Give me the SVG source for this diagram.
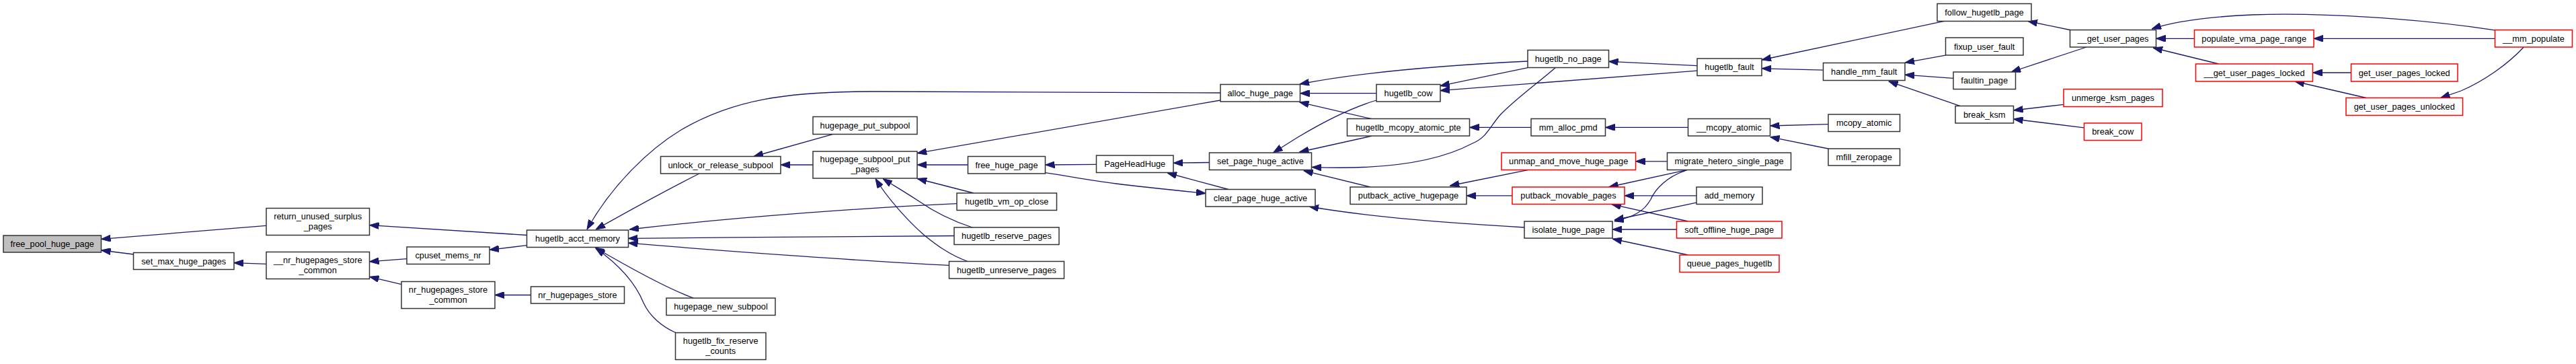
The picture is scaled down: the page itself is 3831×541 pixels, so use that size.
<svg xmlns="http://www.w3.org/2000/svg" width="3831" height="541" viewBox="0 0 3831 541">
<style>
rect{fill:#fff;stroke:#333;stroke-width:1.5}
rect.r{stroke:#f00}
rect.g{fill:#bfbfbf}
text{font-family:"Liberation Sans",Arial,Helvetica,sans-serif;font-size:12.8px;fill:#000;text-anchor:middle}
#edges path{fill:none;stroke:#191970;stroke-width:1.3;marker-end:url(#a)}
</style>
<defs>
<marker id="a" viewBox="0 0 14 10" refX="14" refY="5" markerWidth="14" markerHeight="10" markerUnits="userSpaceOnUse" orient="auto"><path d="M0,0 L14,5 L0,10 z" fill="#191970" stroke="#191970" stroke-width="1"/></marker>
</defs>
<rect x="0" y="0" width="3831" height="541" style="fill:#fff;stroke:none"/>
<g id="edges">
<path d="M396,335.4 L150.5,355.4"/>
<path d="M198.6,378 L150.5,372"/>
<path d="M396,392.3 L347.8,390.6"/>
<path d="M783.5,349.5 L549.5,334.7"/>
<path d="M605,384.7 L549.5,388.8"/>
<path d="M597,422.7 L549.5,411.3"/>
<path d="M783.5,364.7 L728,371.3"/>
<path d="M789.5,438.5 L736,438.5"/>
<path d="M1815,138 L1300,136 C1170,136 1090,148 1013,193 C965,222 910,275 873,341"/>
<path d="M1040,258 C1000,278 950,305 886,341"/>
<path d="M1239,199.4 L1121,232.5"/>
<path d="M1209,245 L1161,245"/>
<path d="M1423,302.6 C1300,308 1100,322 936,341"/>
<path d="M1419,350.5 C1300,351.5 1100,352.5 934.5,354.3"/>
<path d="M1411.5,394.4 C1300,389 1100,375 934.5,361.2"/>
<path d="M1031.7,443 C1000,432 940,400 885,368"/>
<path d="M1005,494.5 C985,486 966,470 957,450 C948,428 930,400 886,369"/>
<path d="M1815,149 L1364.2,227.7"/>
<path d="M1439.5,245 L1364.2,245"/>
<path d="M1448,287 L1364.2,265.5"/>
<path d="M1446,338 C1415,328 1385,312 1365,298 C1345,285 1328,275 1313,265.5"/>
<path d="M1439,388.5 C1410,378 1390,362 1375,350 C1350,328 1320,295 1302,265.5"/>
<path d="M1630.5,244.3 L1554.5,245"/>
<path d="M1554.5,256.7 C1590,262 1620,268 1660,273 C1700,278 1750,283 1793,287.4"/>
<path d="M1798.5,241.5 L1745,242.2"/>
<path d="M1827,281.5 L1736,257"/>
<path d="M2047,149 C2010,160 1965,183 1930,204 L1893.5,227"/>
<path d="M2272,91 C2150,97 2030,106 1933,125"/>
<path d="M2047,138.7 L1933.5,138.7"/>
<path d="M2040,176.7 L1932.5,151.8"/>
<path d="M2272,100.7 L2141.8,127.7"/>
<path d="M2524,105.2 L2141.8,134.6"/>
<path d="M2524,97.6 L2392.6,91.4"/>
<path d="M2040,202.2 L1932.5,226"/>
<path d="M2313,100.7 C2285,125 2250,150 2230,172 C2215,190 2210,205 2190,213 C2130,245 2040,252 1951,248.4"/>
<path d="M2038,278 L1938.7,253.6"/>
<path d="M2277,189.4 L2185.5,189.4"/>
<path d="M2510.5,189.4 L2387.5,189.4"/>
<path d="M2272.4,252.6 L2156.3,276"/>
<path d="M2249,290.9 L2181,290.9"/>
<path d="M2479.5,239.8 L2432.5,239.8"/>
<path d="M2508.6,252.6 L2392.6,278"/>
<path d="M2523,290.9 L2416,290.9"/>
<path d="M2510.7,329 L2396.7,303.6"/>
<path d="M2267,338 C2150,331 2040,323 1947,307"/>
<path d="M2508.6,252.9 C2480,262 2462,280 2454.7,296.7 C2445,314 2430,322 2400.8,328.8"/>
<path d="M2523,301.2 L2400.8,327"/>
<path d="M2493.5,341 L2398,341"/>
<path d="M2510.7,379 L2398,355"/>
<path d="M2891.6,31.4 L2620,89"/>
<path d="M2711.5,104.2 L2620,101.8"/>
<path d="M2893.5,82.1 L2833,93.2"/>
<path d="M2905,116.3 L2833,111.1"/>
<path d="M2915.3,157.7 L2808.7,120.8"/>
<path d="M3078.5,44.5 L3016,31.5"/>
<path d="M3103,70 L2991,107"/>
<path d="M3069,155.3 L2994.5,164"/>
<path d="M3099.5,189.8 L2994.5,177"/>
<path d="M2719,184.6 L2632.5,187"/>
<path d="M2719,221 L2632.5,203.6"/>
<path d="M3710.4,44.9 C3600,28 3450,18 3350,22 C3280,25 3230,33 3200,43"/>
<path d="M3263.5,57.3 L3206.5,57.3"/>
<path d="M3299.6,95 L3202,71"/>
<path d="M3710.5,57.3 L3441,57.3"/>
<path d="M3496.5,108 L3439.5,108"/>
<path d="M3519,145.5 L3413,121"/>
<path d="M3753.3,70 C3730,95 3695,120 3660,135 L3629.5,145.6"/>
</g>
<g id="n1"><rect class="g" x="5" y="350" width="145.5" height="25"/><text x="77.7" y="367">free_pool_huge_page</text></g>
<g id="n2"><rect x="396" y="309.5" width="153.5" height="40"/><text x="472.7" y="325.5">return_unused_surplus</text><text x="472.7" y="340.5">_pages</text></g>
<g id="n3"><rect x="198.5" y="375.5" width="149.5" height="25"/><text x="273.2" y="392.5">set_max_huge_pages</text></g>
<g id="n4"><rect x="396" y="374.5" width="153.5" height="40"/><text x="472.7" y="390.5">__nr_hugepages_store</text><text x="472.7" y="405.5">_common</text></g>
<g id="n5"><rect x="605" y="367" width="123" height="25.5"/><text x="666.5" y="384.2">cpuset_mems_nr</text></g>
<g id="n6"><rect x="597" y="418.5" width="139" height="40"/><text x="666.5" y="434.5">nr_hugepages_store</text><text x="666.5" y="449.5">_common</text></g>
<g id="n7"><rect x="789.5" y="426" width="139" height="25"/><text x="859" y="443">nr_hugepages_store</text></g>
<g id="n8"><rect x="783.5" y="342" width="151" height="25.5"/><text x="859" y="359.2">hugetlb_acct_memory</text></g>
<g id="n9"><rect x="982.5" y="232.5" width="178.5" height="25.5"/><text x="1071.7" y="249.7">unlock_or_release_subpool</text></g>
<g id="n10"><rect x="1209" y="173.5" width="155" height="26"/><text x="1286.5" y="191">hugepage_put_subpool</text></g>
<g id="n11"><rect x="1209" y="225" width="155" height="40"/><text x="1286.5" y="241">hugepage_subpool_put</text><text x="1286.5" y="256">_pages</text></g>
<g id="n12"><rect x="991" y="443" width="162" height="25.5"/><text x="1072" y="460.2">hugepage_new_subpool</text></g>
<g id="n13"><rect x="1004.5" y="494.5" width="134.5" height="40"/><text x="1071.7" y="510.5">hugetlb_fix_reserve</text><text x="1071.7" y="525.5">_counts</text></g>
<g id="n14"><rect x="1815" y="125.5" width="118.5" height="25.5"/><text x="1874.2" y="142.7">alloc_huge_page</text></g>
<g id="n15"><rect x="1439.5" y="232.5" width="115" height="25.5"/><text x="1497" y="249.7">free_huge_page</text></g>
<g id="n16"><rect x="1630.5" y="231" width="114.5" height="25.5"/><text x="1687.7" y="248.2">PageHeadHuge</text></g>
<g id="n17"><rect x="1798.5" y="227" width="152" height="25.5"/><text x="1874.5" y="244.2">set_page_huge_active</text></g>
<g id="n18"><rect x="1793" y="281.5" width="163" height="25.5"/><text x="1874.5" y="298.7">clear_page_huge_active</text></g>
<g id="n19"><rect x="1423" y="287" width="148.5" height="25.5"/><text x="1497.2" y="304.2">hugetlb_vm_op_close</text></g>
<g id="n20"><rect x="1419" y="338" width="156" height="25.5"/><text x="1497" y="355.2">hugetlb_reserve_pages</text></g>
<g id="n21"><rect x="1411.5" y="388.5" width="171" height="25.5"/><text x="1497" y="405.7">hugetlb_unreserve_pages</text></g>
<g id="n22"><rect x="2272" y="74.5" width="120.5" height="26"/><text x="2332.2" y="92">hugetlb_no_page</text></g>
<g id="n23"><rect x="2047" y="125.5" width="95" height="25.5"/><text x="2094.5" y="142.7">hugetlb_cow</text></g>
<g id="n24"><rect x="2003.5" y="176.5" width="182" height="25.5"/><text x="2094.5" y="193.7">hugetlb_mcopy_atomic_pte</text></g>
<g id="n25"><rect x="2277" y="176.5" width="110.5" height="25.5"/><text x="2332.2" y="193.7">mm_alloc_pmd</text></g>
<g id="n26"><rect x="2510.5" y="176.5" width="122" height="25.5"/><text x="2571.5" y="193.7">__mcopy_atomic</text></g>
<g id="n27"><rect class="r" x="2233" y="227" width="199.5" height="25.5"/><text x="2332.7" y="244.2">unmap_and_move_huge_page</text></g>
<g id="n28"><rect x="2479.5" y="227" width="184" height="25.5"/><text x="2571.5" y="244.2">migrate_hetero_single_page</text></g>
<g id="n29"><rect x="2008" y="278" width="173" height="25.5"/><text x="2094.5" y="295.2">putback_active_hugepage</text></g>
<g id="n30"><rect class="r" x="2249" y="278" width="167" height="25.5"/><text x="2332.5" y="295.2">putback_movable_pages</text></g>
<g id="n31"><rect x="2523" y="278" width="98" height="25.5"/><text x="2572" y="295.2">add_memory</text></g>
<g id="n32"><rect x="2267" y="329" width="131" height="25"/><text x="2332.5" y="346">isolate_huge_page</text></g>
<g id="n33"><rect class="r" x="2493.5" y="329" width="156.5" height="25"/><text x="2571.7" y="346">soft_offline_huge_page</text></g>
<g id="n34"><rect class="r" x="2498" y="379" width="148" height="25.5"/><text x="2572" y="396.2">queue_pages_hugetlb</text></g>
<g id="n35"><rect x="2524" y="87" width="96" height="25.5"/><text x="2572" y="104.2">hugetlb_fault</text></g>
<g id="n36"><rect x="2881" y="5.5" width="140" height="26"/><text x="2951" y="23">follow_hugetlb_page</text></g>
<g id="n37"><rect x="3078.5" y="44.5" width="128" height="25.5"/><text x="3142.5" y="61.7">__get_user_pages</text></g>
<g id="n38"><rect x="2893.5" y="56" width="115.5" height="26"/><text x="2951.2" y="73.5">fixup_user_fault</text></g>
<g id="n39"><rect x="2711.5" y="93.5" width="121.5" height="26"/><text x="2772.2" y="111">handle_mm_fault</text></g>
<g id="n40"><rect x="2905" y="107" width="92.5" height="25.5"/><text x="2951.2" y="124.2">faultin_page</text></g>
<g id="n41"><rect x="2908" y="157.5" width="86.5" height="25.5"/><text x="2951.2" y="174.7">break_ksm</text></g>
<g id="n42"><rect class="r" x="3069" y="132.5" width="147" height="26"/><text x="3142.5" y="150">unmerge_ksm_pages</text></g>
<g id="n43"><rect class="r" x="3099.5" y="183" width="85.5" height="25.5"/><text x="3142.2" y="200.2">break_cow</text></g>
<g id="n44"><rect x="2719" y="170" width="106.5" height="25.5"/><text x="2772.2" y="187.2">mcopy_atomic</text></g>
<g id="n45"><rect x="2719" y="221" width="106.5" height="25"/><text x="2772.2" y="238">mfill_zeropage</text></g>
<g id="n46"><rect class="r" x="3263.5" y="44.5" width="177.5" height="25.5"/><text x="3352.2" y="61.7">populate_vma_page_range</text></g>
<g id="n47"><rect class="r" x="3710.5" y="44.5" width="115" height="25.5"/><text x="3768" y="61.7">__mm_populate</text></g>
<g id="n48"><rect class="r" x="3265.5" y="95" width="174" height="26"/><text x="3352.5" y="112.5">__get_user_pages_locked</text></g>
<g id="n49"><rect class="r" x="3496.5" y="95" width="158.5" height="26"/><text x="3575.7" y="112.5">get_user_pages_locked</text></g>
<g id="n50"><rect class="r" x="3489" y="145.5" width="173.5" height="26"/><text x="3575.7" y="163">get_user_pages_unlocked</text></g>
</svg>
